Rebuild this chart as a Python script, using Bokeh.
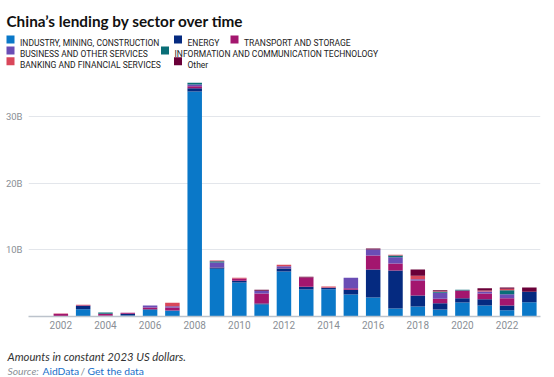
from bokeh.plotting import figure
from bokeh.layouts import column
from bokeh.models import Range1d, FixedTicker, ColumnDataSource
from bokeh.core.properties import value
from bokeh.embed import file_html
from bokeh.resources import INLINE

# ---------------- data ----------------
years = list(range(2002, 2024))
industry  = [0.0, 1.1, 0.1, 0.15, 1.0, 0.9, 33.75, 7.15, 5.1, 1.8, 6.75, 4.05, 4.1, 3.3, 2.85, 1.2, 1.5, 1.05, 2.1, 1.65, 0.95, 2.15]
energy    = [0.0, 0.5, 0.0, 0.25, 0.1, 0.0, 0.5, 0.2, 0.25, 0.15, 0.45, 0.4, 0.2, 0.7, 4.2, 5.7, 1.65, 0.95, 0.65, 0.95, 0.7, 1.55]
transport = [0.4, 0.1, 0.3, 0.15, 0.25, 0.45, 0.3, 0.05, 0.35, 1.5, 0.05, 1.4, 0.05, 0.25, 2.1, 1.05, 2.25, 0.65, 1.15, 0.85, 1.1, 0.0]
business  = [0.0, 0.0, 0.0, 0.0, 0.3, 0.2, 0.25, 0.7, 0.0, 0.4, 0.3, 0.0, 0.0, 1.55, 0.9, 0.95, 0.2, 0.9, 0.0, 0.3, 0.6, 0.0]
ict       = [0.0, 0.0, 0.2, 0.0, 0.0, 0.0, 0.25, 0.2, 0.0, 0.0, 0.0, 0.0, 0.0, 0.0, 0.0, 0.25, 0.0, 0.15, 0.1, 0.0, 0.6, 0.0]
banking   = [0.05, 0.05, 0.0, 0.0, 0.0, 0.5, 0.0, 0.1, 0.1, 0.0, 0.2, 0.0, 0.15, 0.0, 0.0, 0.1, 0.5, 0.1, 0.0, 0.15, 0.2, 0.0]
other     = [0.0, 0.0, 0.0, 0.0, 0.0, 0.0, 0.0, 0.0, 0.0, 0.15, 0.0, 0.1, 0.0, 0.0, 0.15, 0.0, 0.95, 0.15, 0.0, 0.35, 0.2, 0.65]

sector_keys = ["industry", "energy", "transport", "business", "ict", "banking", "other"]
sector_names = ["INDUSTRY, MINING, CONSTRUCTION", "ENERGY", "TRANSPORT AND STORAGE",
                "BUSINESS AND OTHER SERVICES", "INFORMATION AND COMMUNICATION TECHNOLOGY",
                "BANKING AND FINANCIAL SERVICES", "Other"]
sector_colors = ["#0a78c8", "#052a80", "#a3166e", "#6a4db5", "#0a6e77", "#d9475a", "#6a0038"]

x_ticks = list(range(2002, 2023, 2))
y_ticks = [10, 20, 30]
y_tick_labels = ["10B", "20B", "30B"]

title_text = "China\u2019s lending by sector over time"
caption_text = "Amounts in constant 2023 US dollars."
source_parts = ["Source:", "AidData", "/", "Get the data"]

W = 554
HEAD_H = 70
MAIN_H = 266
FOOT_H = 377 - HEAD_H - MAIN_H

# ---------------- header (title + legend) ----------------
head = figure(width=W, height=HEAD_H, x_range=Range1d(0, W), y_range=Range1d(HEAD_H, 0),
              output_backend="svg", toolbar_location=None, x_axis_type=None, y_axis_type=None,
              min_border=0, outline_line_color=None, frame_align=False)
head.xgrid.visible = False
head.ygrid.visible = False
head.text(x=[6], y=[20.5], text=[title_text], text_font=value("Lato"), text_font_style="bold",
          text_font_size="15.3px", text_color="#111111", text_baseline="alphabetic")

leg_sq_x = [6, 173.5, 230, 6, 160.5, 6, 173.5]
leg_row_y = [39, 39, 39, 50, 50, 60.8, 60.8]
for i in range(len(sector_keys)):
    head.rect(x=[leg_sq_x[i] + 4], y=[leg_row_y[i]], width=8, height=8,
              fill_color=sector_colors[i], line_color=None)
    head.text(x=[leg_sq_x[i] + 13.5], y=[leg_row_y[i] + 3.2], text=[sector_names[i]],
              text_font=value("Roboto"), text_font_size="8.5px", text_color="#222222",
              text_baseline="alphabetic")

# ---------------- main chart ----------------
src = ColumnDataSource(dict(year=years, industry=industry, energy=energy, transport=transport,
                            business=business, ict=ict, banking=banking, other=other))

p = figure(width=W, height=MAIN_H, x_range=Range1d(2000.55, 2023.5), y_range=Range1d(0, 36.45),
           output_backend="svg", toolbar_location=None,
           min_border_left=28, min_border_right=14, min_border_top=3, min_border_bottom=20,
           outline_line_color=None, frame_align=False)
p.vbar_stack(sector_keys, x="year", width=0.65, color=sector_colors, line_color=None, source=src)

p.xgrid.visible = False
p.ygrid.ticker = FixedTicker(ticks=y_ticks)
p.ygrid.grid_line_color = "#e3e6eb"
p.ygrid.grid_line_width = 1

p.yaxis.ticker = FixedTicker(ticks=y_ticks)
p.yaxis.major_label_overrides = {t: l for t, l in zip(y_ticks, y_tick_labels)}
p.yaxis.axis_line_color = None
p.yaxis.major_tick_line_color = None
p.yaxis.minor_tick_line_color = None
p.yaxis.major_tick_out = 0
p.yaxis.major_tick_in = 0
p.yaxis.major_label_standoff = 6
p.yaxis.major_label_text_font = "Roboto"
p.yaxis.major_label_text_font_size = "9.5px"
p.yaxis.major_label_text_color = "#8a8f96"

p.xaxis.ticker = FixedTicker(ticks=x_ticks)
p.xaxis.axis_line_color = "#bcc3cc"
p.xaxis.axis_line_width = 1.5
p.xaxis.major_tick_line_color = None
p.xaxis.minor_tick_line_color = None
p.xaxis.major_tick_out = 0
p.xaxis.major_tick_in = 0
p.xaxis.major_label_standoff = 4
p.xaxis.major_label_text_font = "Roboto"
p.xaxis.major_label_text_font_size = "10px"
p.xaxis.major_label_text_color = "#8a8f96"

# ---------------- footer ----------------
foot = figure(width=W, height=FOOT_H, x_range=Range1d(0, W), y_range=Range1d(FOOT_H, 0),
              output_backend="svg", toolbar_location=None, x_axis_type=None, y_axis_type=None,
              min_border=0, outline_line_color=None, frame_align=False)
foot.xgrid.visible = False
foot.ygrid.visible = False
foot.text(x=[7], y=[20], text=[caption_text], text_font=value("Lato"), text_font_style="italic",
          text_font_size="11.3px", text_color="#333333", text_baseline="alphabetic")
src_x = [7, 42, 80, 87]
src_colors = ["#8a8f96", "#1a6fc9", "#8a8f96", "#1a6fc9"]
src_styles = ["italic", "normal", "normal", "normal"]
for t, xx, c, s in zip(source_parts, src_x, src_colors, src_styles):
    foot.text(x=[xx], y=[34], text=[t], text_font=value("Lato"), text_font_style=s,
              text_font_size="10.3px", text_color=c, text_baseline="alphabetic")

layout = column(head, p, foot, spacing=0)
open("out.html", "w").write(file_html(layout, INLINE))
